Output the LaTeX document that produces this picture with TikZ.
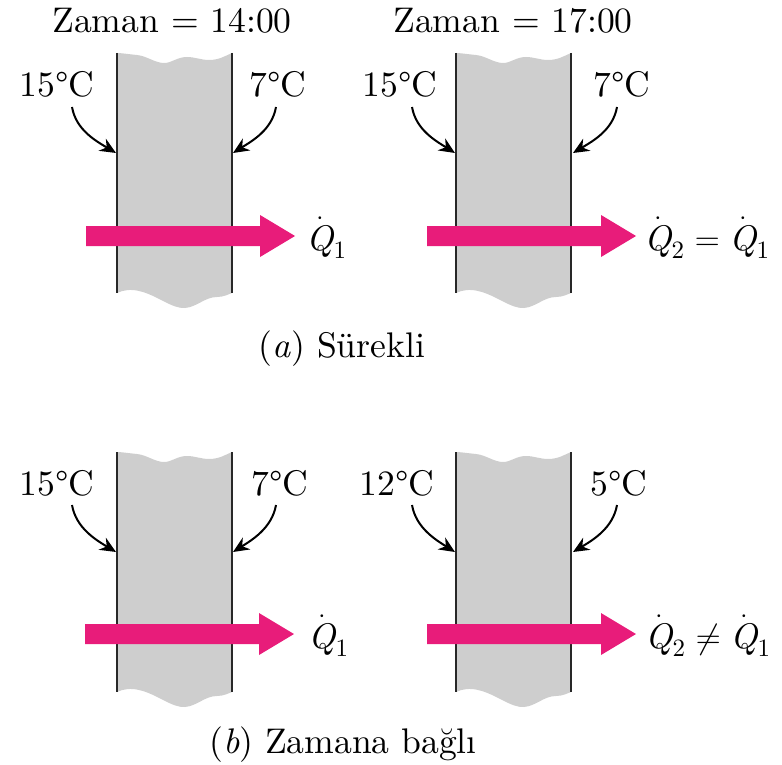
\documentclass[tikz,border=0pt]{standalone}
\usepackage{fontspec}
\usepackage{amsmath}
\setmainfont{lmroman10}[Extension=.otf, UprightFont=*-regular, ItalicFont=*-italic, BoldFont=*-bold, BoldItalicFont=*-bolditalic]
\usetikzlibrary{arrows.meta}
\definecolor{heatpink}{RGB}{232,28,122}
\definecolor{wallgray}{RGB}{206,206,206}
\definecolor{wallline}{RGB}{40,40,40}
\newcommand{\Qd}{\dot{\text{\itshape Q}}}
\newcommand{\wallpiece}[3]{%
  \begin{scope}[shift={(#2,#3)}]
    \fill[wallfill] (0,0) -- (0,240)
      .. controls (6,237) and (14,236) .. (22,238)
      .. controls (40,242) and (55,256) .. (68,255)
      .. controls (80,254) and (88,244) .. (100,244)
      .. controls (107,244) and (112,241) .. (115,240)
      -- (115,0)
      .. controls (108,3) and (102,7) .. (92,7)
      .. controls (84,7) and (78,4) .. (70,4)
      .. controls (60,4) and (55,10) .. (47,10)
      .. controls (38,10) and (30,3) .. (20,2)
      .. controls (10,1) and (4,0) .. (0,0) -- cycle;
    \draw[wallside] (0,0) coordinate (#1-tl) -- (0,240) coordinate (#1-bl);
    \draw[wallside] (115,0) coordinate (#1-tr) -- (115,240) coordinate (#1-br);
  \end{scope}}
\newcommand{\heatarrow}[2]{%
  \fill[heat] (#1,#2-10) -- ++(174,0) -- ++(0,-11) -- ++(35,21) -- ++(-35,21)
    -- ++(0,-11) -- ++(-174,0) -- cycle;}
\begin{document}
\begin{tikzpicture}[x=0.5pt,y=-0.5pt,
  lbl/.style={font=\fontsize{17.8}{21}\selectfont, inner sep=0pt, anchor=base},
  lblw/.style={lbl, anchor=base west},
  tarrow/.style={line width=1pt, draw=black, -{Stealth[length=8pt,width=7pt]}},
  heat/.style={fill=heatpink, draw=none},
  wallfill/.style={fill=wallgray, draw=none},
  wallside/.style={draw=wallline, line width=1pt}]
\useasboundingbox (0,0) rectangle (782,765);

% ---------- (a) top-left ----------
\node[lbl] (timeA) at (172,33) {Zaman = 14:00};
\wallpiece{wA}{117}{53}
\node[lbl] (tA1) at (57,97) {15°C};
\node[lbl] (tA2) at (278,97) {7°C};
\coordinate (sA1) at (72,107); \coordinate (eA1) at (116,153);
\coordinate (sA2) at (276,107); \coordinate (eA2) at (233,153);
\draw[tarrow] (sA1) .. controls (76,130) and (96,141) .. (eA1);
\draw[tarrow] (sA2) .. controls (272,130) and (252,141) .. (eA2);
\heatarrow{86}{236}
\node[lblw] (qA) at (306,250) {$\Qd_{\text{1}}$};

% ---------- (a) top-right ----------
\node[lbl] (timeB) at (513,33) {Zaman = 17:00};
\wallpiece{wB}{456}{53}
\node[lbl] (tB1) at (400,97) {15°C};
\node[lbl] (tB2) at (622,97) {7°C};
\coordinate (sB1) at (412,107); \coordinate (eB1) at (455,153);
\coordinate (sB2) at (617,107); \coordinate (eB2) at (573,153);
\draw[tarrow] (sB1) .. controls (416,130) and (436,141) .. (eB1);
\draw[tarrow] (sB2) .. controls (613,130) and (593,141) .. (eB2);
\heatarrow{427}{236}
\node[lblw] (qB) at (644,250) {$\Qd_{\text{2}} = \Qd_{\text{1}}$};

\node[lbl] (capA) at (342,357) {(\textit{a}) Sürekli};

% ---------- (b) bottom-left ----------
\wallpiece{wC}{117}{452}
\node[lbl] (tC1) at (57,495) {15°C};
\node[lbl] (tC2) at (280,495) {7°C};
\coordinate (sC1) at (72,505); \coordinate (eC1) at (116,552);
\coordinate (sC2) at (276,505); \coordinate (eC2) at (233,552);
\draw[tarrow] (sC1) .. controls (76,528) and (96,540) .. (eC1);
\draw[tarrow] (sC2) .. controls (272,528) and (252,540) .. (eC2);
\heatarrow{85}{634}
\node[lblw] (qC) at (308,648) {$\Qd_{\text{1}}$};

% ---------- (b) bottom-right ----------
\wallpiece{wD}{456}{452}
\node[lbl] (tD1) at (397,495) {12°C};
\node[lbl] (tD2) at (619,495) {5°C};
\coordinate (sD1) at (412,505); \coordinate (eD1) at (455,552);
\coordinate (sD2) at (617,505); \coordinate (eD2) at (573,552);
\draw[tarrow] (sD1) .. controls (416,528) and (436,540) .. (eD1);
\draw[tarrow] (sD2) .. controls (613,528) and (593,540) .. (eD2);
\heatarrow{427}{634}
\node[lblw] (qD) at (645,648) {$\Qd_{\text{2}} \neq \Qd_{\text{1}}$};

\node[lbl] (capB) at (343,753) {(\textit{b}) Zamana bağlı};
\end{tikzpicture}
\end{document}
